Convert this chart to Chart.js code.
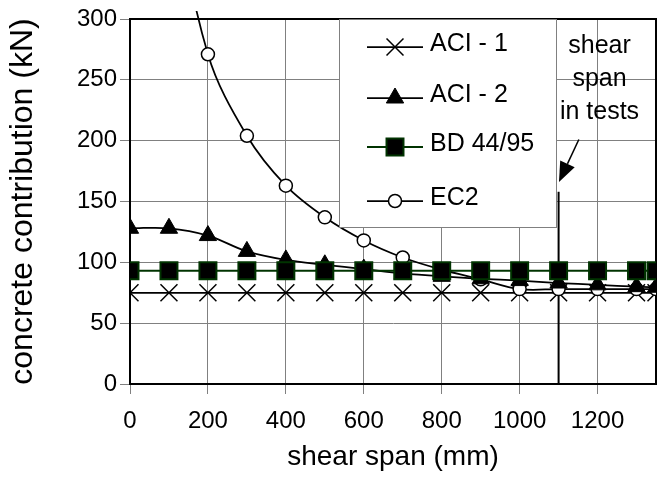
<!DOCTYPE html>
<html>
<head>
<meta charset="utf-8">
<script src="https://cdn.jsdelivr.net/npm/chart.js@4.4.0/dist/chart.umd.min.js"></script>
<style>
  html, body { margin: 0; padding: 0; background: #fff; }
</style>
</head>
<body>
<canvas id="shearChart" width="670" height="487"></canvas>
<script>
const spans = [0, 100, 200, 300, 400, 500, 600, 700, 800, 900, 1000, 1100, 1200, 1300, 1350];
const aci1 = [75, 75, 75, 75, 75, 75, 75, 75, 75, 75, 75, 75, 75, 75, 75];
const aci2 = [128, 128, 122, 109, 102, 98, 94.5, 91, 88.5, 86.5, 85, 83, 81.5, 80, 79.5];
const bd4495 = [93, 93, 93, 93, 93, 93, 93, 93, 93, 93, 93, 93, 93, 93, 93];
const ec2 = [null, 420, 271, 204, 163, 137, 118, 104, 94, 86, 78, 78, 78, 78, 78];
const seriesNames = ['ACI - 1', 'ACI - 2', 'BD 44/95', 'EC2'];

const xTicks = [0, 200, 400, 600, 800, 1000, 1200];
const yTicks = [0, 50, 100, 150, 200, 250, 300];

// shear span used in the tests, and its note
const testSpan = 1100;
const testLineTop = 158;
const noteLines = ['shear', 'span', 'in tests'];
const noteAt = { x: 1205, y: 272 };
const arrowFrom = { x: 1152, y: 201 };
const arrowTo = { x: 1101, y: 166 };

const FONT = "'Liberation Sans', Arial, sans-serif";
const pts = arr => spans.map((x, i) => ({ x, y: arr[i] }));

const frame = {
  id: 'frame',
  beforeDatasetsDraw(chart) {
    const { ctx, chartArea: a } = chart;
    ctx.save();
    ctx.strokeStyle = '#000';
    ctx.lineWidth = 2;
    ctx.beginPath();
    ctx.moveTo(a.left, a.top);
    ctx.lineTo(a.right, a.top);
    ctx.lineTo(a.right, a.bottom);
    ctx.stroke();
    ctx.restore();
  }
};

const legendBox = {
  id: 'legendBox',
  afterDraw(chart) {
    const { ctx } = chart;
    const box = { x: 339, y: 19, w: 217, h: 208 };
    ctx.save();
    ctx.fillStyle = '#fff';
    ctx.fillRect(box.x, box.y, box.w, box.h);
    ctx.strokeStyle = '#808080';
    ctx.lineWidth = 1;
    ctx.strokeRect(box.x + 0.5, box.y + 0.5, box.w, box.h);

    const rows = [47, 98, 147, 201];
    ctx.font = '25px ' + FONT;
    ctx.textBaseline = 'middle';
    seriesNames.forEach((name, i) => {
      const ds = chart.data.datasets[i];
      const y = rows[i];
      ctx.strokeStyle = ds.borderColor;
      ctx.lineWidth = ds.borderWidth;
      ctx.beginPath();
      ctx.moveTo(367, y);
      ctx.lineTo(423, y);
      ctx.stroke();
      ctx.fillStyle = ds.pointBackgroundColor;
      ctx.strokeStyle = ds.pointBorderColor;
      ctx.lineWidth = ds.pointBorderWidth;
      Chart.helpers.drawPoint(ctx, {
        pointStyle: ds.pointStyle, radius: ds.pointRadius,
        borderWidth: ds.pointBorderWidth, rotation: 0
      }, 395, y);
      ctx.fillStyle = '#000';
      ctx.fillText(name, 430, y - 3);
    });
    ctx.restore();
  }
};

const note = {
  id: 'note',
  afterDraw(chart) {
    const { ctx, scales: { x, y } } = chart;
    ctx.save();
    ctx.fillStyle = '#000';
    ctx.font = '25px ' + FONT;
    ctx.textAlign = 'center';
    ctx.textBaseline = 'alphabetic';
    const nx = x.getPixelForValue(noteAt.x);
    const ny = y.getPixelForValue(noteAt.y);
    noteLines.forEach((t, i) => ctx.fillText(t, nx, ny + i * 33));

    const x0 = x.getPixelForValue(arrowFrom.x), y0 = y.getPixelForValue(arrowFrom.y);
    const x1 = x.getPixelForValue(arrowTo.x), y1 = y.getPixelForValue(arrowTo.y);
    const ang = Math.atan2(y1 - y0, x1 - x0);
    const len = 20, half = 8;
    const bx = x1 - Math.cos(ang) * len, by = y1 - Math.sin(ang) * len;
    ctx.strokeStyle = '#000';
    ctx.lineWidth = 1.5;
    ctx.beginPath();
    ctx.moveTo(x0, y0);
    ctx.lineTo(bx, by);
    ctx.stroke();
    ctx.beginPath();
    ctx.moveTo(x1, y1);
    ctx.lineTo(bx - Math.sin(ang) * half, by + Math.cos(ang) * half);
    ctx.lineTo(bx + Math.sin(ang) * half, by - Math.cos(ang) * half);
    ctx.closePath();
    ctx.fill();
    ctx.restore();
  }
};

new Chart(document.getElementById('shearChart'), {
  type: 'line',
  data: {
    datasets: [
      {
        label: seriesNames[0], data: pts(aci1), order: 3,
        borderColor: '#000', borderWidth: 1.75, tension: 0.35,
        pointStyle: 'crossRot', pointRadius: 12, pointBorderWidth: 1.5,
        pointBorderColor: '#000', pointBackgroundColor: '#000'
      },
      {
        label: seriesNames[1], data: pts(aci2), order: 1,
        borderColor: '#000', borderWidth: 1.75, tension: 0.35,
        pointStyle: 'triangle', pointRadius: 10, pointBorderWidth: 1,
        pointBorderColor: '#000', pointBackgroundColor: '#000'
      },
      {
        label: seriesNames[2], data: pts(bd4495), order: 0,
        borderColor: '#003300', borderWidth: 2, tension: 0.35,
        pointStyle: 'rect', pointRadius: 12, pointBorderWidth: 2,
        pointBorderColor: '#003300', pointBackgroundColor: '#000'
      },
      {
        label: seriesNames[3], data: pts(ec2), order: 2,
        borderColor: '#000', borderWidth: 1.75, tension: 0.35,
        clip: { left: 0, top: 8, right: 0, bottom: 0 },
        pointStyle: 'circle', pointRadius: 6.5, pointBorderWidth: 1.5,
        pointBorderColor: '#000', pointBackgroundColor: '#fff'
      },
      {
        label: 'test span', data: [{ x: testSpan, y: 0 }, { x: testSpan, y: testLineTop }],
        order: 4, borderColor: '#000', borderWidth: 2, pointRadius: 0, tension: 0
      }
    ]
  },
  options: {
    responsive: false,
    animation: false,
    devicePixelRatio: 1,
    layout: { padding: { top: 19, right: 6, left: 0, bottom: 0 } },
    plugins: { legend: { display: false }, tooltip: { enabled: false } },
    scales: {
      x: {
        type: 'linear', min: 0, max: 1350,
        afterBuildTicks: s => { s.ticks = xTicks.map(v => ({ value: v })); },
        afterFit: s => { s.height = 103; },
        ticks: { color: '#000', font: { family: FONT, size: 24 }, padding: 13, maxRotation: 0, autoSkip: false, callback: v => String(v) },
        grid: { color: '#808080', lineWidth: 1, tickLength: 10, tickColor: '#808080' },
        border: { color: '#000', width: 2 },
        title: { display: true, text: 'shear span (mm)', color: '#000', font: { family: FONT, size: 28 }, padding: { top: 0, bottom: 13 } }
      },
      y: {
        min: 0, max: 300,
        afterBuildTicks: s => { s.ticks = yTicks.map(v => ({ value: v })); },
        afterFit: s => { s.width = 130; },
        ticks: { color: '#000', font: { family: FONT, size: 24 }, padding: 3, callback: v => String(v) },
        grid: { color: '#808080', lineWidth: 1, tickLength: 10, tickColor: '#808080' },
        border: { color: '#000', width: 2 },
        title: { display: true, text: 'concrete contribution (kN)', color: '#000', font: { family: FONT, size: 32 }, padding: { top: 4, bottom: 0 } }
      }
    }
  },
  plugins: [frame, legendBox, note]
});
</script>
</body>
</html>
